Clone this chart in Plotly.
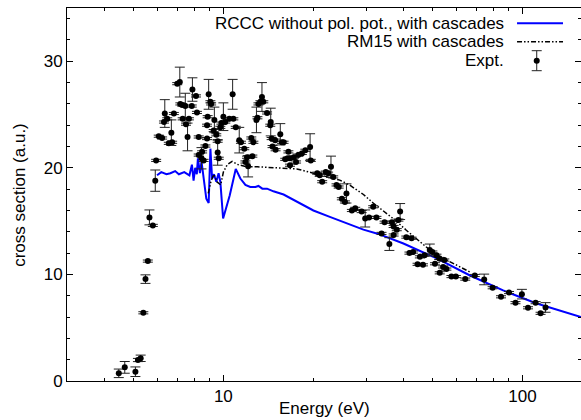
import numpy as np
import plotly.graph_objects as go

# Experimental data (energy eV, cross section a.u., error)
expt_E = [4.47, 4.68, 5.08, 5.18, 5.29, 5.40, 5.49, 5.59, 5.66, 5.81, 5.92, 5.96, 6.08, 6.24,
          6.33, 6.37, 6.49, 6.57, 6.70, 6.74, 6.83, 7.01, 7.15, 7.18, 7.28, 7.31, 7.46, 7.50,
          7.59, 7.67, 7.84, 7.88, 8.10, 8.16, 8.27, 8.27, 8.45, 8.49, 8.59, 8.71, 8.82, 8.82,
          8.86, 8.93, 9.05, 9.10, 9.28, 9.33, 9.47, 9.57, 9.57, 9.65, 9.77, 9.85, 10.0, 10.15,
          10.47, 10.74, 10.8, 11.0, 11.3, 11.45, 11.75, 11.85, 12.0, 12.1, 12.4, 12.5, 12.6,
          12.9, 13.0, 13.1, 13.3, 13.46, 13.6, 14.0, 14.35, 14.4, 14.5, 14.6, 14.9, 14.95,
          15.5, 15.7, 15.9, 16.1, 16.4, 16.5, 16.7, 16.7, 17.2, 17.5, 17.8, 18.3, 18.8, 19.5,
          19.6, 20.6, 21.0, 21.4, 22.0, 22.4, 22.9, 23.3, 23.9, 24.3, 24.9, 25.5, 25.8, 26.9,
          27.6, 29.0, 29.8, 30.7, 31.7, 32.5, 33.8, 34.6, 35.9, 36.6, 37.1, 37.1, 38.0, 38.5,
          39.0, 40.9, 41.9, 42.6, 43.1, 44.6, 45.4, 46.5, 47.1, 49.0, 50.0, 51.0, 51.6, 52.7,
          52.9, 54.3, 54.8, 55.7, 57.9, 59.9, 64.4, 69.3, 74.5, 79.5, 84.8, 90.2, 94.8, 99.6,
          104.4, 110.7, 115.0, 119.5]
expt_sigma = [0.72, 1.28, 0.87, 1.97, 2.13, 6.4, 9.56, 11.25, 15.35, 14.6, 18.8, 20.7, 22.97, 22.8,
              24.3, 25.1, 24.6, 22.3, 23.3, 22.4, 25.1, 27.9, 28.05, 26.0, 25.9, 24.6, 25.8, 24.1,
              22.9, 24.6, 25.8, 27.35, 26.75, 25.2, 22.9, 21.2, 20.9, 21.5, 20.7, 22.05, 24.0, 22.75,
              24.8, 26.9, 26.2, 26.0, 23.5, 24.5, 23.1, 22.5, 21.45, 20.9, 23.8, 24.2, 24.8, 24.3,
              24.6, 26.9, 24.6, 23.8, 22.6, 22.4, 21.8, 20.55, 21.0, 20.15, 22.8, 21.1, 22.4,
              24.5, 24.7, 26.0, 26.2, 26.65, 26.2, 25.15, 24.0, 24.3, 22.75, 22.0, 22.6, 21.7,
              23.15, 22.4, 22.4, 20.8, 20.9, 21.5, 20.9, 20.25, 21.0, 20.55, 21.2, 21.35, 21.65, 21.95,
              20.7, 19.5, 19.3, 18.7, 19.6, 19.5, 20.1, 19.15, 18.4, 18.2, 17.1, 16.8, 17.6, 16.0,
              16.2, 15.9, 15.25, 15.35, 16.35, 15.35, 13.85, 14.9, 12.85, 14.9, 14.5, 13.7, 14.2, 15.1,
              15.9, 13.5, 12.0, 13.4, 12.1, 10.95, 11.65, 10.9, 11.8, 12.3, 12.1, 11.0, 11.8, 11.5,
              10.15, 10.7, 11.35, 10.5, 9.8, 9.8, 9.56, 9.9, 9.53, 8.75, 7.9, 8.3, 7.35, 8.15,
              6.87, 7.35, 6.35, 6.9]
expt_err = [0.4, 0.55, 0.45, 0.15, 0.3, 0.1, 0.4, 0.1, 0.7, 0.1, 1.0, 0.1, 0.1, 0.1,
            0.1, 1.3, 0.1, 0.1, 1.2, 0.1, 0.1, 0.1, 1.4, 0.1, 0.1, 0.1, 1.2, 0.1,
            1.3, 0.1, 0.1, 1.1, 0.1, 0.1, 0.1, 0.1, 1.0, 0.1, 0.1, 0.1, 0.1, 0.1,
            0.1, 1.4, 0.1, 0.1, 0.1, 1.2, 0.1, 0.1, 1.2, 0.1, 0.1, 0.1, 1.3, 0.1,
            0.1, 1.4, 0.1, 0.1, 1.2, 0.1, 0.1, 0.1, 0.1, 1.0, 0.1, 0.1, 0.1,
            1.2, 0.1, 0.1, 0.1, 1.35, 0.1, 0.1, 0.1, 1.3, 0.1, 0.1, 0.1, 0.1,
            1.0, 0.1, 0.1, 0.1, 0.1, 0.1, 0.1, 0.1, 0.1, 0.1, 0.1, 0.1, 0.1, 1.25,
            0.1, 0.1, 0.1, 0.1, 0.1, 0.1, 1.0, 0.1, 0.1, 0.1, 0.1, 0.1, 0.9, 0.1,
            0.1, 0.1, 0.8, 0.1, 0.1, 0.1, 0.1, 0.1, 0.6, 0.1, 0.1, 0.1, 0.1, 0.1,
            0.75, 0.1, 0.1, 0.1, 0.1, 0.1, 0.1, 0.1, 0.1, 0.55, 0.1, 0.1, 0.1, 0.1,
            0.1, 0.1, 0.1, 0.1, 0.1, 0.1, 0.1, 0.1, 0.5, 0.1, 0.1, 0.1, 0.1, 0.45,
            0.1, 0.1, 0.1, 0.45]

# RCCC without pol. pot., with cascades
rccc_E = [6.0, 6.2, 6.45, 6.65, 6.9, 7.1, 7.4, 7.7, 7.85, 7.95, 8.05, 8.15, 8.22, 8.35, 8.45,
          8.55, 8.64, 8.77, 8.93, 9.05, 9.17, 9.3, 9.47, 9.64, 9.77, 9.98, 10.5, 11.0, 11.4,
          11.85, 12.3, 12.8, 13.1, 13.5, 14.0, 14.7, 15.9, 17.6, 20.0, 22.7, 25.8, 29.4, 33.0,
          40.0, 51.7, 66.8, 86.2, 111.0, 157.0]
rccc_sigma = [19.3, 19.6, 19.4, 19.5, 19.7, 19.4, 19.6, 19.3, 20.3, 18.8, 20.0, 19.4, 20.9, 19.5, 20.6,
              19.4, 18.1, 17.1, 16.7, 21.8, 19.0, 19.4, 18.7, 19.5, 18.7, 15.25, 17.4, 19.9, 19.0,
              18.4, 18.2, 18.2, 18.3, 18.05, 18.05, 17.8, 17.5, 16.8, 16.0, 15.4, 14.8, 14.2, 13.8,
              12.9, 11.5, 9.9, 8.5, 7.3, 6.0]

# RM15 with cascades
rm15_E = [8.9, 9.1, 9.3, 9.5, 9.8, 10.0, 10.3, 10.7, 11.2, 12.0, 13.0, 15.0, 17.6, 20.0, 22.7,
          24.5, 26.4, 29.4, 31.7, 34.6, 37.5, 40.9, 44.9, 49.0, 52.0, 57.0, 62.0, 67.0]
rm15_sigma = [17.6, 18.8, 19.4, 18.7, 18.4, 19.6, 20.3, 20.6, 20.3, 20.1, 20.1, 20.0, 19.9, 19.5, 19.1,
              18.85, 18.4, 17.5, 16.7, 15.9, 15.1, 14.15, 13.2, 12.3, 11.8, 11.2, 10.7, 10.2]

x_major = [10, 100]
x_minor = [3, 4, 5, 6, 7, 8, 9, 20, 30, 40, 50, 60, 70, 80, 90, 200]
y_major = [0, 10, 20, 30]

FONT = "Liberation Sans, Arial, Helvetica, sans-serif"

fig = go.Figure()
fig.add_trace(go.Scatter(x=rccc_E, y=rccc_sigma, mode="lines",
                         line=dict(color="#0000ff", width=2), showlegend=False))
fig.add_trace(go.Scatter(x=rm15_E, y=rm15_sigma, mode="lines",
                         line=dict(color="black", width=1.5, dash="5px,2px,1.5px,2px,1.5px,2px"),
                         showlegend=False))
fig.add_trace(go.Scatter(x=expt_E, y=expt_sigma, mode="markers",
                         marker=dict(color="black", size=6),
                         error_y=dict(type="data", array=expt_err, visible=True,
                                      color="#222222", thickness=1, width=5),
                         showlegend=False))

# manual gnuplot-style legend (text right, sample on right)
leg_text = ["RCCC without pol. pot., with cascades", "RM15 with cascades", "Expt."]
row_y = [23.3, 41.7, 60.7]
H = 373.0
W = 514.3
def py(p):
    return (381 - p) / H
def px(p):
    return (p - 66.7) / W

for t, yy in zip(leg_text, row_y):
    fig.add_annotation(x=px(506), y=py(yy), xref="paper", yref="paper", text=t,
                       showarrow=False, xanchor="right", yanchor="middle",
                       font=dict(family=FONT, size=17, color="black"))
fig.add_shape(type="line", xref="paper", yref="paper", x0=px(517), x1=px(563),
              y0=py(row_y[0]), y1=py(row_y[0]), line=dict(color="#0000ff", width=2))
fig.add_shape(type="line", xref="paper", yref="paper", x0=px(517), x1=px(563),
              y0=py(row_y[1]), y1=py(row_y[1]),
              line=dict(color="black", width=1.5, dash="5px,2px,1.5px,2px,1.5px,2px"))
cx = px(536.7)
fig.add_shape(type="line", xref="paper", yref="paper", x0=cx, x1=cx,
              y0=py(row_y[2] - 10), y1=py(row_y[2] + 10), line=dict(color="#222222", width=1))
for d in (-10, 10):
    fig.add_shape(type="line", xref="paper", yref="paper", x0=px(531.7), x1=px(541.7),
                  y0=py(row_y[2] + d), y1=py(row_y[2] + d), line=dict(color="#222222", width=1))
fig.add_shape(type="circle", xref="paper", yref="paper", x0=px(533.7), x1=px(539.7),
              y0=py(row_y[2] + 3), y1=py(row_y[2] - 3), fillcolor="black", line=dict(width=0))

# axis titles
fig.add_annotation(x=0.5, y=py(408), xref="paper", yref="paper", text="Energy (eV)",
                   showarrow=False, xanchor="center", yanchor="middle",
                   font=dict(family=FONT, size=17, color="black"))
fig.add_annotation(x=px(19), y=0.5, xref="paper", yref="paper", text="cross section (a.u.)",
                   showarrow=False, xanchor="center", yanchor="middle", textangle=-90,
                   font=dict(family=FONT, size=17, color="black"))

fig.update_xaxes(type="log", range=[np.log10(3), np.log10(157)],
                 tickvals=x_major, ticktext=[str(v) for v in x_major],
                 ticks="inside", ticklen=6, tickwidth=1, tickcolor="black",
                 minor=dict(tickvals=x_minor, ticks="inside", ticklen=3, tickcolor="black"),
                 showline=True, linecolor="black", linewidth=1, mirror="ticks",
                 showgrid=False, zeroline=False,
                 tickfont=dict(family=FONT, size=17, color="black"))
fig.update_yaxes(range=[0, 35], tickvals=y_major,
                 ticks="inside", ticklen=6, tickwidth=1, tickcolor="black",
                 minor=dict(dtick=2, tick0=0, ticks="inside", ticklen=3, tickcolor="black"),
                 showline=True, linecolor="black", linewidth=1, mirror="ticks",
                 showgrid=False, zeroline=False,
                 tickfont=dict(family=FONT, size=17, color="black"))

fig.update_layout(width=581, height=420, margin=dict(l=67, r=0, t=8, b=39),
                  paper_bgcolor="white", plot_bgcolor="white", showlegend=False,
                  font=dict(family=FONT, size=17, color="black"))

fig.write_html("out.html", config={"displayModeBar": False, "staticPlot": True},
               post_script="document.body.style.margin='0px';document.body.style.overflow='hidden';")
